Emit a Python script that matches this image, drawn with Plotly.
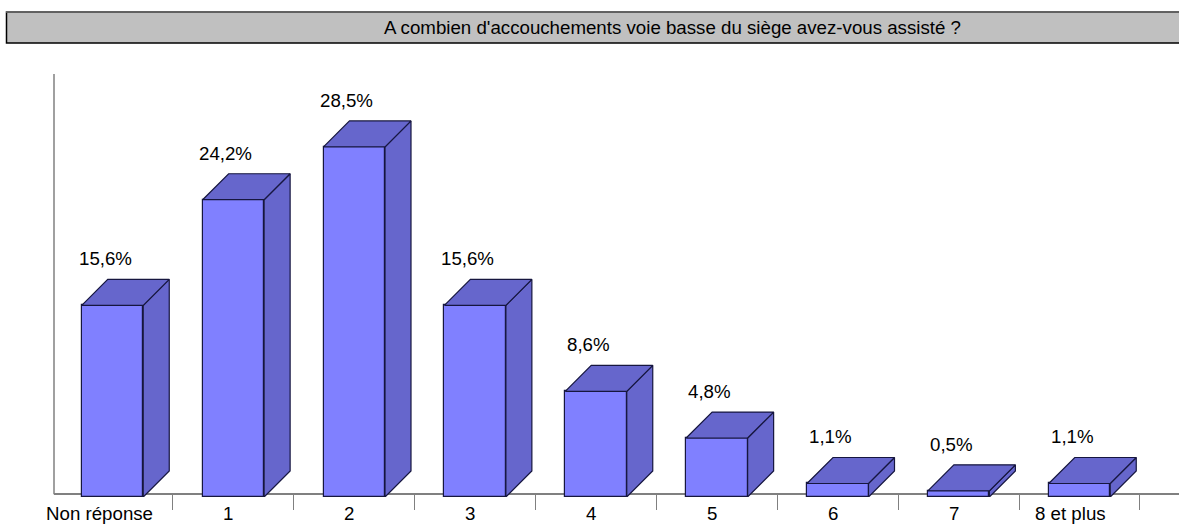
import plotly.graph_objects as go

categories = ["Non réponse", "1", "2", "3", "4", "5", "6", "7", "8 et plus"]
values = [15.6, 24.2, 28.5, 15.6, 8.6, 4.8, 1.1, 0.5, 1.1]
value_labels = ["15,6%", "24,2%", "28,5%", "15,6%", "8,6%", "4,8%", "1,1%", "0,5%", "1,1%"]
title_text = "A combien d'accouchements voie basse du siège avez-vous assisté ?"

W, H = 1179, 524
ZERO_PX = 497.2
AXIS_PX = 494.5
L, T, B = 54, 74, H - ZERO_PX
PLOT_W, PLOT_H = W - L, H - T - B
PX_PER_CAT = 120.875
PX_PER_PCT = 12.29
CENTER0 = 112.5
BAR_PX = 61.5
DEPTH_PX = 26
FONT_SIZE = 18.7
FONT = "Liberation Sans, Arial, sans-serif"
EDGE = "#16163f"
EDGE_W = 1.2
FRONT = "#8080FF"
SIDE = "#6666CC"
GREY = "#808080"

x_lo = (L - CENTER0) / PX_PER_CAT
x_hi = (W - CENTER0) / PX_PER_CAT
y_hi = PLOT_H / PX_PER_PCT
half = BAR_PX / PX_PER_CAT / 2
dx = DEPTH_PX / PX_PER_CAT
dy = DEPTH_PX / PX_PER_PCT

idx = list(range(len(categories)))
side_x, side_y, top_x, top_y = [], [], [], []
for i, v in zip(idx, values):
    r, l = i + half, i - half
    side_x += [r, r + dx, r + dx, r, r, None]
    side_y += [0, dy, v + dy, v, 0, None]
    top_x += [l, l + dx, r + dx, r, l, None]
    top_y += [v, v + dy, v + dy, v, v, None]

fig = go.Figure()
fig.add_bar(x=idx, y=values, width=BAR_PX / PX_PER_CAT, cliponaxis=False,
            marker=dict(color=FRONT, line=dict(color=EDGE, width=EDGE_W)), hoverinfo="skip")
for xs, ys in ((side_x, side_y), (top_x, top_y)):
    fig.add_scatter(x=xs, y=ys, mode="lines", fill="toself", fillcolor=SIDE, cliponaxis=False,
                    line=dict(color=EDGE, width=EDGE_W), hoverinfo="skip")

annotations = []
for i, v, t in zip(idx, values, value_labels):
    annotations.append(dict(x=i, y=v, text=t, showarrow=False, xref="x", yref="y",
                            xanchor="center", yanchor="middle",
                            xshift=-7.5, yshift=46.5, font=dict(size=FONT_SIZE, color="black")))
cat_shifts = [-13, -5, -5, -5, -5, -5, -5, -5, -9.5]
for i, c, s in zip(idx, categories, cat_shifts):
    annotations.append(dict(x=i, y=0, text=c, showarrow=False, xref="x", yref="y", yshift=-16,
                            xanchor="center", yanchor="middle",
                            xshift=s, font=dict(size=FONT_SIZE, color="black")))


def px(p):
    return (p - L) / PLOT_W


def py(p):
    return (H - B - p) / PLOT_H


annotations.append(dict(x=px(672.5), y=py(27.5), xref="paper", yref="paper",
                        xanchor="center", yanchor="middle",
                        text=title_text, showarrow=False, font=dict(size=FONT_SIZE, color="black")))

shapes = [
    dict(type="rect", xref="paper", yref="paper", x0=px(6.5), x1=px(W + 5), y0=py(43), y1=py(12),
         fillcolor="#C0C0C0", line=dict(color="black", width=1.5), layer="below"),
    dict(type="line", xref="paper", yref="paper", x0=px(6), x1=px(W), y0=py(12), y1=py(12),
         line=dict(color="#707070", width=1.5)),
    dict(type="line", xref="paper", yref="paper", x0=px(54), x1=px(54), y0=py(AXIS_PX), y1=py(T),
         line=dict(color=GREY, width=1.5), layer="below"),
]

fig.update_layout(
    width=W, height=H, autosize=False, showlegend=False, plot_bgcolor="rgba(0,0,0,0)", paper_bgcolor="white",
    margin=dict(l=L, r=0, t=T, b=B, pad=0, autoexpand=False), bargap=0,
    font=dict(family=FONT, size=FONT_SIZE, color="black"),
    annotations=annotations, shapes=shapes,
    xaxis=dict(range=[x_lo, x_hi], tickmode="array", tickvals=[i + 0.5 for i in idx], ticktext=[""] * len(idx),
               anchor="free", position=py(AXIS_PX),
               ticks="outside", ticklen=15, tickwidth=1, tickcolor=GREY, showline=True, linecolor=GREY,
               linewidth=1.5, showgrid=False, zeroline=False, fixedrange=True, layer="below traces"),
    yaxis=dict(range=[0, y_hi], showticklabels=False, ticks="", showline=False,
               showgrid=False, zeroline=False, fixedrange=True, layer="below traces"),
)
fig.write_html("out.html", config=dict(displayModeBar=False),
               post_script="document.body.style.margin='0';document.documentElement.style.overflow='hidden';")
